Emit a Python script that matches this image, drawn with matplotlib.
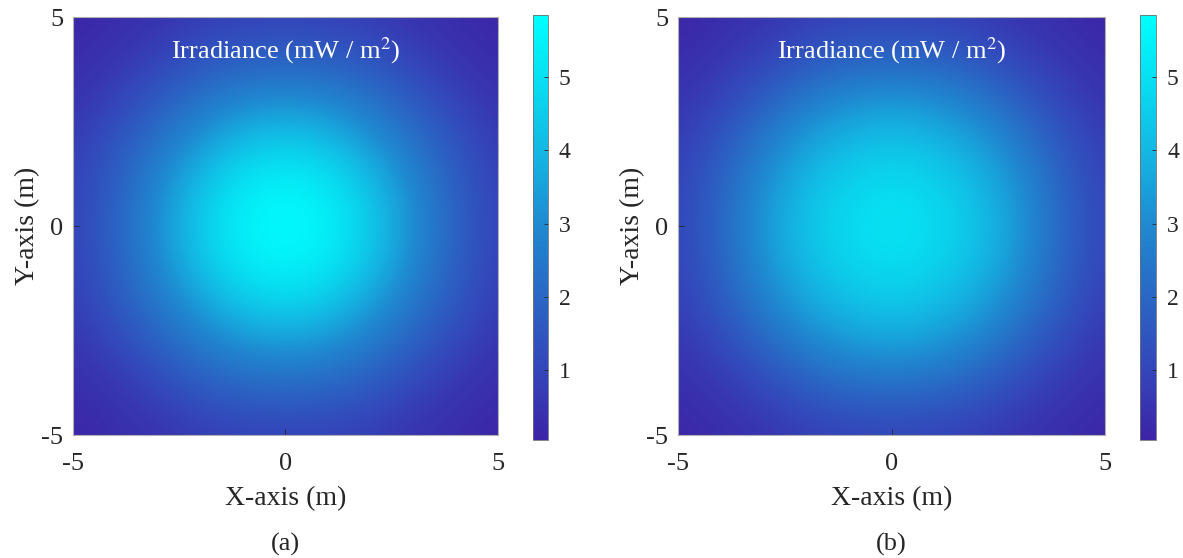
import numpy as np
import matplotlib
matplotlib.use('Agg')
import matplotlib.pyplot as plt
from matplotlib.colors import LinearSegmentedColormap

plt.rcParams['font.family'] = ['Liberation Serif', 'DejaVu Serif']
plt.rcParams['mathtext.fontset'] = 'stix'
plt.rcParams['axes.unicode_minus'] = False

# grid positions (m) and irradiance (mW/m^2)
grid_x = [-5, -4, -3, -2, -1, 0, 1, 2, 3, 4, 5]
grid_y = [-5, -4, -3, -2, -1, 0, 1, 2, 3, 4, 5]

irr_a = [
    [0.10, 0.30, 0.45, 0.70, 0.85, 0.90, 0.85, 0.70, 0.45, 0.30, 0.10],
    [0.30, 0.50, 0.90, 1.50, 1.80, 1.90, 1.80, 1.50, 0.90, 0.50, 0.30],
    [0.45, 0.90, 1.70, 2.40, 2.90, 3.10, 2.90, 2.40, 1.70, 0.90, 0.45],
    [0.70, 1.50, 2.40, 3.30, 4.20, 4.50, 4.20, 3.30, 2.40, 1.50, 0.70],
    [0.85, 1.80, 2.90, 4.20, 5.20, 5.50, 5.20, 4.20, 2.90, 1.80, 0.85],
    [0.90, 1.90, 3.10, 4.50, 5.50, 5.85, 5.50, 4.50, 3.10, 1.90, 0.90],
    [0.85, 1.80, 2.90, 4.20, 5.20, 5.50, 5.20, 4.20, 2.90, 1.80, 0.85],
    [0.70, 1.50, 2.40, 3.30, 4.20, 4.50, 4.20, 3.30, 2.40, 1.50, 0.70],
    [0.45, 0.90, 1.70, 2.40, 2.90, 3.10, 2.90, 2.40, 1.70, 0.90, 0.45],
    [0.30, 0.50, 0.90, 1.50, 1.80, 1.90, 1.80, 1.50, 0.90, 0.50, 0.30],
    [0.10, 0.30, 0.45, 0.70, 0.85, 0.90, 0.85, 0.70, 0.45, 0.30, 0.10],
]

irr_b = [
    [0.10, 0.30, 0.48, 0.72, 0.90, 0.95, 0.90, 0.72, 0.48, 0.30, 0.10],
    [0.30, 0.55, 0.95, 1.55, 1.90, 2.00, 1.90, 1.55, 0.95, 0.55, 0.30],
    [0.48, 0.95, 1.80, 2.60, 3.10, 3.30, 3.10, 2.60, 1.80, 0.95, 0.48],
    [0.72, 1.55, 2.60, 3.50, 4.05, 4.30, 4.05, 3.50, 2.60, 1.55, 0.72],
    [0.90, 1.90, 3.10, 4.05, 4.70, 4.90, 4.70, 4.05, 3.10, 1.90, 0.90],
    [0.95, 2.00, 3.30, 4.30, 4.90, 5.10, 4.90, 4.30, 3.30, 2.00, 0.95],
    [0.90, 1.90, 3.10, 4.05, 4.70, 4.90, 4.70, 4.05, 3.10, 1.90, 0.90],
    [0.72, 1.55, 2.60, 3.50, 4.05, 4.30, 4.05, 3.50, 2.60, 1.55, 0.72],
    [0.48, 0.95, 1.80, 2.60, 3.10, 3.30, 3.10, 2.60, 1.80, 0.95, 0.48],
    [0.30, 0.55, 0.95, 1.55, 1.90, 2.00, 1.90, 1.55, 0.95, 0.55, 0.30],
    [0.10, 0.30, 0.48, 0.72, 0.90, 0.95, 0.90, 0.72, 0.48, 0.30, 0.10],
]

cbar_ticks = [1, 2, 3, 4, 5]
vmin, vmax = 0.05, 5.85
panel_tags = ['(a)', '(b)']

cmap = LinearSegmentedColormap.from_list(
    'irr', ['#3c24a6', '#3446ba', '#2a66c4', '#1f88d0', '#14b4e2', '#08dcf0', '#00ffff'])

fig = plt.figure(figsize=(11.83, 5.58), dpi=100)

axes_pos = [[0.0617, 0.2204, 0.359, 0.749], [0.5731, 0.2204, 0.361, 0.749]]
cbar_pos = [[0.4505, 0.2115, 0.0125, 0.762], [0.9636, 0.2115, 0.0135, 0.762]]
txt = '#262626'

for k, data in enumerate([irr_a, irr_b]):
    ax = fig.add_axes(axes_pos[k])
    half = (grid_x[1] - grid_x[0]) / 2
    im = ax.imshow(np.array(data), origin='lower', cmap=cmap, vmin=vmin, vmax=vmax,
                   interpolation='bicubic', aspect='auto',
                   extent=(grid_x[0] - half, grid_x[-1] + half, grid_y[0] - half, grid_y[-1] + half))
    ax.set_xlim(-5, 5)
    ax.set_ylim(-5, 5)
    ax.set_xticks([-5, 0, 5])
    ax.set_yticks([-5, 0, 5])
    ax.tick_params(direction='in', length=4, width=0.6, colors=txt, labelsize=19)
    ax.tick_params(axis='x', pad=13)
    ax.tick_params(axis='y', pad=7)
    for s in ax.spines.values():
        s.set_color('#b0b0b0')
        s.set_linewidth(0.8)
    ax.set_xlabel('X-axis (m)', fontsize=20, color=txt, labelpad=8)
    ax.set_ylabel('Y-axis (m)', fontsize=20, color=txt, labelpad=1)
    ax.text(0, 4.2, r'Irradiance (mW / m$^{2}$)', color='white', fontsize=19,
            ha='center', va='center')
    ax.text(0.5, -0.262, panel_tags[k], transform=ax.transAxes, fontsize=19,
            color=txt, ha='center', va='center')

    cax = fig.add_axes(cbar_pos[k])
    cb = fig.colorbar(im, cax=cax, ticks=cbar_ticks)
    cb.outline.set_edgecolor('#707070')
    cb.outline.set_linewidth(0.6)
    cax.tick_params(direction='in', length=3, width=0.6, colors=txt, labelsize=17, pad=8)

fig.savefig('out.png', dpi=100)
